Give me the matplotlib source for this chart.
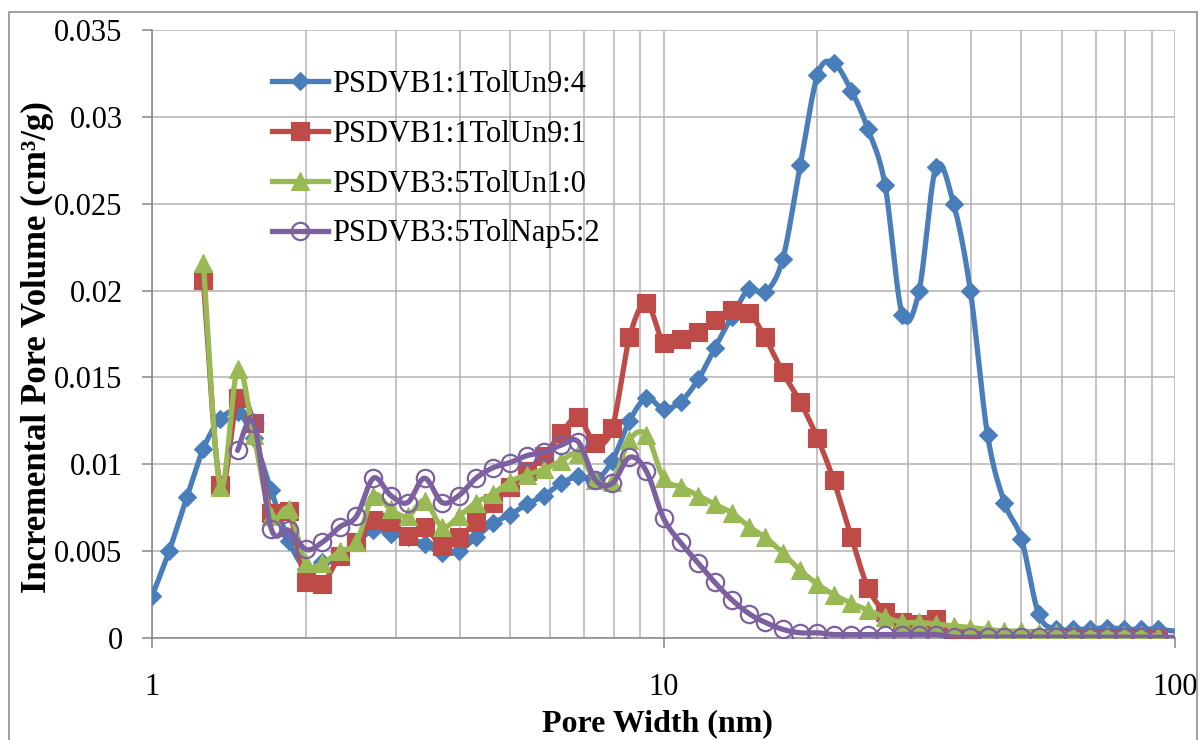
import numpy as np
import matplotlib
matplotlib.use("Agg")
import matplotlib.pyplot as plt
from matplotlib.lines import Line2D
from matplotlib.patches import Rectangle
from matplotlib.ticker import FixedLocator, FuncFormatter, NullFormatter, LogLocator

nan = np.nan

# ---------------- data ----------------
pore_width = [1.00, 1.08, 1.17, 1.26, 1.36, 1.47, 1.58, 1.71, 1.85, 2.00,
              2.15, 2.33, 2.51, 2.71, 2.93, 3.16, 3.41, 3.69, 3.98, 4.30,
              4.64, 5.01, 5.41, 5.84, 6.31, 6.81, 7.36, 7.94, 8.58, 9.26,
              10.0, 10.8, 11.7, 12.6, 13.6, 14.7, 15.8, 17.1, 18.5, 20.0,
              21.5, 23.3, 25.1, 27.1, 29.3, 31.6, 34.1, 36.9, 39.8, 43.0,
              46.4, 50.1, 54.1, 58.4, 63.1, 68.1, 73.6, 79.4, 85.8, 92.6, 106.0]

tolun94 = [0.0024, 0.0050, 0.0081, 0.0109, 0.0126, 0.0130, 0.0115, 0.0085, 0.0056, 0.0040,
           0.0044, 0.0047, 0.0055, 0.0062, 0.0060, 0.0058, 0.0054, 0.0049, 0.0050, 0.0058,
           0.0066, 0.0071, 0.0077, 0.0082, 0.0089, 0.0093, 0.0091, 0.0102, 0.0125, 0.0138,
           0.0132, 0.0136, 0.0149, 0.0167, 0.0185, 0.0201, 0.0199, 0.0218, 0.0272, 0.0324,
           0.0331, 0.0315, 0.0293, 0.0261, 0.0186, 0.0200, 0.0271, 0.0250, 0.0200, 0.0117,
           0.0078, 0.0057, 0.0014, 0.0005, 0.0005, 0.0005, 0.0006, 0.0005, 0.0005, 0.0005, 0.0003]

tolun91 = [nan, nan, nan, 0.0206, 0.0088, 0.0138, 0.0124, 0.0072, 0.0073, 0.0032,
           0.0031, 0.0047, 0.0055, 0.0068, 0.0067, 0.0059, 0.0064, 0.0053, 0.0058, 0.0067,
           0.0078, 0.0087, 0.0096, 0.0105, 0.0118, 0.0127, 0.0112, 0.0121, 0.0173, 0.0193,
           0.0170, 0.0172, 0.0176, 0.0183, 0.0189, 0.0187, 0.0173, 0.0153, 0.0136, 0.0115,
           0.0091, 0.0058, 0.0029, 0.0015, 0.0009, 0.0008, 0.0011, 0.0, 0.0, 0.0,
           0.0, 0.0, 0.0, 0.0, 0.0, 0.0, 0.0, 0.0, 0.0, 0.0, nan]

tolun10 = [nan, nan, nan, 0.0216, 0.0087, 0.0155, 0.0117, 0.0070, 0.0074, 0.0043,
           0.0043, 0.0050, 0.0055, 0.0082, 0.0074, 0.0070, 0.0079, 0.0064, 0.0070, 0.0078,
           0.0083, 0.0090, 0.0094, 0.0097, 0.0102, 0.0106, 0.0091, 0.0090, 0.0114, 0.0117,
           0.0092, 0.0087, 0.0082, 0.0077, 0.0072, 0.0064, 0.0058, 0.0049, 0.0039, 0.0031,
           0.0025, 0.0020, 0.0016, 0.0012, 0.0009, 0.0009, 0.0008, 0.0007, 0.0006, 0.0005,
           0.0004, 0.0004, 0.0003, 0.0003, 0.0002, 0.0002, 0.0002, 0.0002, 0.0002, 0.0001, nan]

tolnap52 = [nan, nan, nan, nan, nan, 0.0108, 0.0124, 0.0063, 0.0062, 0.0051,
            0.0055, 0.0064, 0.0070, 0.0092, 0.0082, 0.0078, 0.0092, 0.0078, 0.0082, 0.0092,
            0.0098, 0.0101, 0.0105, 0.0107, 0.0111, 0.0113, 0.0091, 0.0089, 0.0104, 0.0096,
            0.0069, 0.0055, 0.0043, 0.0032, 0.0022, 0.0014, 0.0009, 0.0005, 0.0003, 0.0003,
            0.0002, 0.0002, 0.0002, 0.0002, 0.0002, 0.0002, 0.0002, 0.00005, 0.00005, 0.00005,
            0.00005, 0.00005, 0.00005, 0.00005, 0.00005, 0.00005, 0.00005, 0.00005, 0.00005, 0.00005, 0.00003]

labels = ["PSDVB1:1TolUn9:4", "PSDVB1:1TolUn9:1", "PSDVB3:5TolUn1:0", "PSDVB3:5TolNap5:2"]
colors = ["#4A7EBB", "#BE4B48", "#98B954", "#7D60A0"]
y_ticks = [0, 0.005, 0.01, 0.015, 0.02, 0.025, 0.03, 0.035]
x_ticks = [1, 10, 100]

# ---------------- style ----------------
W, H = 1203, 740
fig = plt.figure(figsize=(W / 100, H / 100), dpi=100)
plt.rcParams["font.family"] = ["Liberation Serif", "DejaVu Serif"]

L, R, T, B = 152, 1175, 30, 638
ax = fig.add_axes([L / W, 1 - B / H, (R - L) / W, (B - T) / H])
ax.set_xscale("log")
ax.set_xlim(1, 100)
ax.set_ylim(0, 0.035)

grid_c = "#B3B3B3"
axis_c = "#868686"
ax.xaxis.set_major_locator(FixedLocator(x_ticks))
ax.xaxis.set_minor_locator(LogLocator(base=10, subs=np.arange(2, 10)))
ax.xaxis.set_minor_formatter(NullFormatter())
ax.xaxis.set_major_formatter(FuncFormatter(lambda v, p: "%g" % v))
ax.yaxis.set_major_locator(FixedLocator(y_ticks))
ax.yaxis.set_major_formatter(FuncFormatter(lambda v, p: "%g" % v))
ax.grid(True, which="both", axis="x", color=grid_c, lw=1.1)
ax.grid(True, which="major", axis="y", color=grid_c, lw=1.1)
ax.set_axisbelow(True)
for s in ["top", "right"]:
    ax.spines[s].set_visible(False)
for s in ["left", "bottom"]:
    ax.spines[s].set_color(axis_c)
    ax.spines[s].set_linewidth(1.1)
ax.tick_params(axis="x", which="major", direction="out", length=7.2, width=1.1,
               color=axis_c, labelsize=22, pad=18)
ax.tick_params(axis="x", which="minor", length=0)
ax.tick_params(axis="y", which="major", direction="out", length=7.2, width=1.1,
               color=axis_c, labelsize=22, pad=14)


def smooth(xs, ys, n=24):
    xs = np.asarray(xs, float)
    ys = np.asarray(ys, float)
    m = ~np.isnan(ys)
    u = np.log10(xs[m])
    v = ys[m]
    P = np.column_stack([u, v])
    k = len(P)
    out = [P[0]]
    t = np.linspace(0, 1, n + 1)[1:][:, None]
    for i in range(k - 1):
        p0 = P[max(i - 1, 0)]
        p1 = P[i]
        p2 = P[i + 1]
        p3 = P[min(i + 2, k - 1)]
        c1 = p1 + (p2 - p0) / 6.0
        c2 = p2 - (p3 - p1) / 6.0
        seg = ((1 - t) ** 3) * p1 + 3 * ((1 - t) ** 2) * t * c1 + 3 * (1 - t) * t ** 2 * c2 + t ** 3 * p2
        out.extend(seg)
    out = np.array(out)
    return 10 ** out[:, 0], out[:, 1]


series = [tolun94, tolun91, tolun10, tolnap52]
markers = ["D", "s", "^", "o"]
msizes = [9.5, 13, 13.5, 12.5]
handles = []
for k, (ys, c, mk, ms, lab) in enumerate(zip(series, colors, markers, msizes, labels)):
    sx, sy = smooth(pore_width, ys)
    ax.plot(sx, sy, color=c, lw=3.8, zorder=3 + 2 * k, solid_capstyle="round")
    if mk == "o":
        mkw = dict(markerfacecolor="none", markeredgecolor=c, markeredgewidth=1.6)
    else:
        mkw = dict(markerfacecolor=c, markeredgecolor=c, markeredgewidth=0.8)
    ax.plot(pore_width, ys, linestyle="none", marker=mk, markersize=ms, zorder=4 + 2 * k, **mkw)
    handles.append(Line2D([], [], color=c, lw=3.8, marker=mk, markersize=ms, **mkw))

leg = ax.legend(handles, labels, loc="upper left",
                bbox_to_anchor=(272 / W, 1 - 70 / H), bbox_transform=fig.transFigure,
                frameon=False, fontsize=22, handlelength=1.83, handletextpad=0.15,
                labelspacing=0.68, borderpad=0, borderaxespad=0, numpoints=1)

fig.text(37 / W, 1 - 347 / H, "Incremental Pore Volume (cm³/g)", rotation=90,
         ha="center", va="center", fontsize=25, fontweight="bold")
fig.text(657 / W, 1 - 724 / H, "Pore Width (nm)", ha="center", va="center",
         fontsize=23, fontweight="bold")

fig.patches.append(Rectangle((9 / W, -0.05), (1197 - 9) / W, 1.05 - 12 / H,
                             transform=fig.transFigure, fill=False,
                             edgecolor=axis_c, lw=1.1))

fig.savefig("out.png", dpi=100)
